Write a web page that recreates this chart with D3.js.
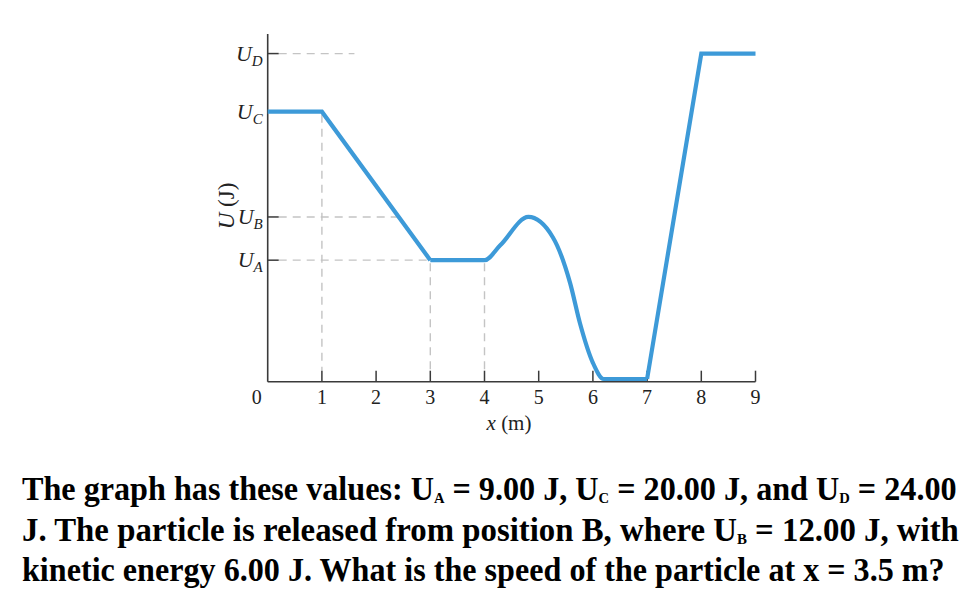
<!DOCTYPE html>
<html>
<head>
<meta charset="utf-8">
<script src="https://cdn.jsdelivr.net/npm/d3@7"></script>
<style>
  html, body { margin: 0; padding: 0; background: #fff; }
  svg { display: block; }
</style>
</head>
<body>
<svg id="chart" width="977" height="595"></svg>
<script>
// energy levels (J)
const levelNames = ['A', 'B', 'C', 'D']
const levelValues = [9, 12.2, 20, 24.3]

// x tick labels (m)
const xTicks = [0, 1, 2, 3, 4, 5, 6, 7, 8, 9]

// straight pieces of U(x)
const rampX = [0, 1, 3]
const rampU = [20, 20, 9]
const climbX = [7, 8, 9]
const climbU = [0.2, 24.3, 24.3]
// smooth hump between x = 3 and x = 7
const humpX = [3, 4, 4.29, 4.81, 5.26, 5.58, 5.76, 6.0, 6.2, 7]
const humpU = [9, 9, 10.1, 12.2, 10.7, 7.3, 4.35, 1.4, 0.2, 0.2]

// dashed guide lines
const guideLevels = [24.3, 12.2, 9]
const guideEnds = [1.6, 2.42, 3]
const dropX = [1, 3, 4]
const dropU = [20, 9, 9]

const svg = d3.select('#chart')
const x = d3.scaleLinear().domain([0, 9]).range([267.7, 755.5])
const y = d3.scaleLinear().domain([0, 25.75]).range([381.7, 34])
const serif = '"Liberation Serif", "DejaVu Serif", serif'
const axisColor = '#3a3a3a'
const dashColor = '#c4c4c4'

// guides
svg.append('g').selectAll('line').data(guideLevels)
  .enter().append('line')
  .attr('x1', x(0) + 11)
  .attr('x2', (d, i) => x(guideEnds[i]))
  .attr('y1', d => y(d))
  .attr('y2', d => y(d))
  .attr('stroke', dashColor)
  .attr('stroke-width', 1.4)
  .attr('stroke-dasharray', '8,6')

svg.append('g').selectAll('line').data(dropX)
  .enter().append('line')
  .attr('x1', d => x(d))
  .attr('x2', d => x(d))
  .attr('y1', (d, i) => y(dropU[i]) + 3)
  .attr('y2', y(0) - 11)
  .attr('stroke', dashColor)
  .attr('stroke-width', 1.4)
  .attr('stroke-dasharray', '8,6')

// axes
svg.append('line')
  .attr('x1', x(0)).attr('x2', x(0))
  .attr('y1', y(25.75)).attr('y2', y(0))
  .attr('stroke', axisColor).attr('stroke-width', 1.6)
svg.append('line')
  .attr('x1', x(0)).attr('x2', x(9))
  .attr('y1', y(0)).attr('y2', y(0))
  .attr('stroke', axisColor).attr('stroke-width', 1.6)

svg.append('g').selectAll('line').data(xTicks.slice(1))
  .enter().append('line')
  .attr('x1', d => x(d)).attr('x2', d => x(d))
  .attr('y1', y(0)).attr('y2', y(0) - 11)
  .attr('stroke', axisColor).attr('stroke-width', 1.5)

svg.append('g').selectAll('line').data(levelValues)
  .enter().append('line')
  .attr('x1', x(0)).attr('x2', x(0) + 11)
  .attr('y1', d => y(d)).attr('y2', d => y(d))
  .attr('stroke', axisColor).attr('stroke-width', 1.5)

svg.append('g').selectAll('text').data(xTicks)
  .enter().append('text')
  .attr('x', d => d === 0 ? x(d) - 11 : x(d))
  .attr('y', 404)
  .attr('text-anchor', 'middle')
  .attr('font-family', serif)
  .attr('font-size', 20)
  .attr('fill', '#222')
  .text(d => d)

const yLabels = svg.append('g').selectAll('text').data(levelValues)
  .enter().append('text')
  .attr('x', x(0) - 5)
  .attr('y', d => y(d) + 7)
  .attr('text-anchor', 'end')
  .attr('font-family', serif)
  .attr('font-style', 'italic')
  .attr('font-size', 22)
  .attr('fill', '#222')
yLabels.append('tspan').text('U')
yLabels.append('tspan')
  .attr('font-size', 15)
  .attr('dy', 5)
  .text((d, i) => levelNames[i])

const xLabel = svg.append('text')
  .attr('x', 509).attr('y', 430)
  .attr('text-anchor', 'middle')
  .attr('font-family', serif)
  .attr('font-size', 21)
  .attr('fill', '#222')
xLabel.append('tspan').attr('font-style', 'italic').text('x')
xLabel.append('tspan').text(' (m)')

const yLabel = svg.append('text')
  .attr('transform', 'translate(234,206) rotate(-90)')
  .attr('text-anchor', 'middle')
  .attr('font-family', serif)
  .attr('font-size', 23)
  .attr('fill', '#222')
yLabel.append('tspan').attr('font-style', 'italic').text('U')
yLabel.append('tspan').text(' (J)')

// potential energy curve
const straight = d3.line().x(d => x(d[0])).y(d => y(d[1]))
const smooth = d3.line().x(d => x(d[0])).y(d => y(d[1])).curve(d3.curveMonotoneX)
const curveColor = '#3d9ad8'

const pieces = [
  [straight, d3.zip(rampX, rampU)],
  [smooth, d3.zip(humpX, humpU)],
  [straight, d3.zip(climbX, climbU)]
]
pieces.forEach(([gen, pts]) => {
  svg.append('path')
    .attr('d', gen(pts))
    .attr('fill', 'none')
    .attr('stroke', curveColor)
    .attr('stroke-width', 4.2)
    .attr('stroke-linejoin', 'miter')
})

// question text, odd parts are subscripts
const question = [
  ['The graph has these values: U', 'A', ' = 9.00 J, U', 'C', ' = 20.00 J, and U', 'D', ' = 24.00'],
  ['J. The particle is released from position B, where U', 'B', ' = 12.00 J, with'],
  ['kinetic energy 6.00 J. What is the speed of the particle at x = 3.5 m?']
]
const lineEnds = [957, 959, 945]
const left = 22

question.forEach((parts, i) => {
  const g = svg.append('g')
  const t = g.append('text')
    .attr('x', 0)
    .attr('y', 0)
    .attr('font-family', serif)
    .attr('font-weight', 'bold')
    .attr('font-size', 33)
    .attr('fill', '#000')
  parts.forEach((p, j) => {
    const sub = j % 2 === 1
    t.append('tspan')
      .attr('font-size', sub ? 15 : 33)
      .attr('dy', sub ? 3 : (j > 0 ? -3 : 0))
      .text(p)
  })
  // squeeze each line to the width it has in the picture
  const natural = t.node().getComputedTextLength()
  const sx = (lineEnds[i] - left) / natural
  g.attr('transform', `translate(${left},${500 + i * 40.5}) scale(${sx},1)`)
})
</script>
</body>
</html>
